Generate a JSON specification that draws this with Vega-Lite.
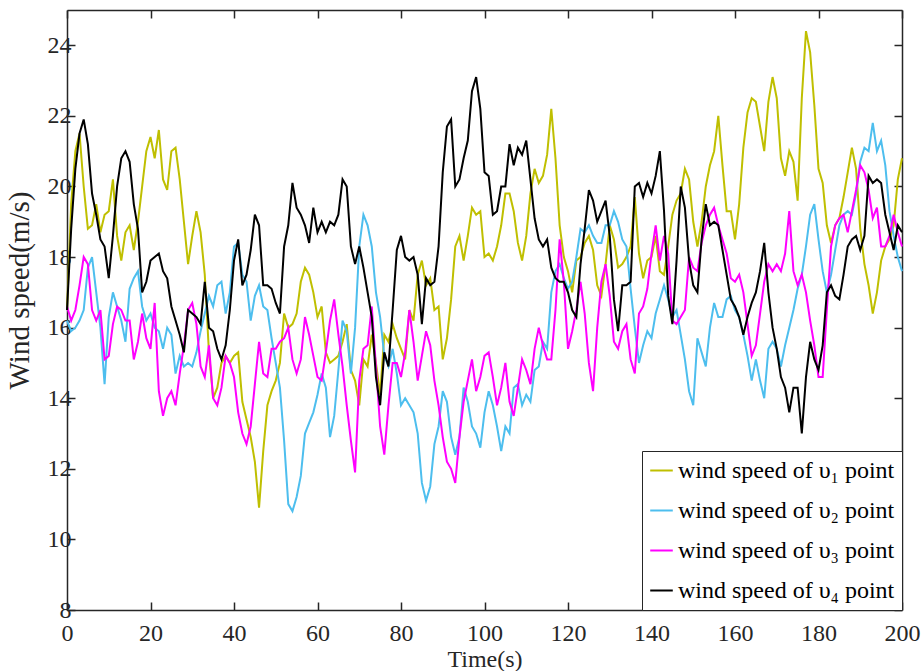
{
  "$schema": "https://vega.github.io/schema/vega-lite/v6.json",
  "width": 835,
  "height": 600,
  "autosize": "none",
  "padding": {"left": 67, "top": 10, "right": 19, "bottom": 61},
  "background": "white",
  "config": {
    "view": {"stroke": null},
    "font": "Liberation Serif",
    "axis": {
      "grid": false,
      "domainColor": "#262626",
      "domainWidth": 1.5,
      "tickColor": "#262626",
      "tickWidth": 1.5,
      "tickSize": -8,
      "labelColor": "#262626",
      "labelFont": "Liberation Serif",
      "labelFontSize": 24,
      "titleFont": "Liberation Serif",
      "titleFontSize": 24,
      "titleFontWeight": "normal",
      "titleColor": "#262626",
      "labelOverlap": false,
      "labelFlush": false
    },
    "legend": {"labelFont": "Liberation Serif"}
  },
  "data": {"values": [
    {"t":0,"v1":16.5,"v2":16.2,"v3":16.6,"v4":16.5},
    {"t":1,"v1":19.5,"v2":15.9,"v3":16.2,"v4":18.8},
    {"t":2,"v1":21.0,"v2":16.0,"v3":16.5,"v4":20.5},
    {"t":3,"v1":21.5,"v2":16.2,"v3":17.2,"v4":21.5},
    {"t":4,"v1":20.0,"v2":16.5,"v3":18.0,"v4":21.9},
    {"t":5,"v1":18.8,"v2":17.7,"v3":17.8,"v4":21.2},
    {"t":6,"v1":18.9,"v2":18.0,"v3":16.5,"v4":19.8},
    {"t":7,"v1":19.5,"v2":17.0,"v3":16.2,"v4":19.2},
    {"t":8,"v1":18.7,"v2":16.0,"v3":16.5,"v4":18.5},
    {"t":9,"v1":19.2,"v2":14.4,"v3":15.1,"v4":18.3},
    {"t":10,"v1":19.3,"v2":16.3,"v3":15.2,"v4":17.4},
    {"t":11,"v1":20.2,"v2":17.0,"v3":16.1,"v4":18.6},
    {"t":12,"v1":18.6,"v2":16.6,"v3":16.6,"v4":20.0},
    {"t":13,"v1":17.9,"v2":16.2,"v3":16.5,"v4":20.8},
    {"t":14,"v1":18.7,"v2":15.6,"v3":16.2,"v4":21.0},
    {"t":15,"v1":18.9,"v2":17.1,"v3":16.2,"v4":20.7},
    {"t":16,"v1":18.2,"v2":17.4,"v3":15.1,"v4":19.5},
    {"t":17,"v1":19.0,"v2":17.6,"v3":15.6,"v4":18.8},
    {"t":18,"v1":20.0,"v2":16.6,"v3":16.4,"v4":17.0},
    {"t":19,"v1":21.0,"v2":16.2,"v3":15.7,"v4":17.3},
    {"t":20,"v1":21.4,"v2":16.4,"v3":15.4,"v4":17.9},
    {"t":21,"v1":20.8,"v2":16.0,"v3":16.7,"v4":18.0},
    {"t":22,"v1":21.6,"v2":15.9,"v3":14.2,"v4":18.1},
    {"t":23,"v1":20.2,"v2":15.4,"v3":13.5,"v4":17.6},
    {"t":24,"v1":19.9,"v2":16.0,"v3":14.0,"v4":17.4},
    {"t":25,"v1":21.0,"v2":15.8,"v3":14.2,"v4":16.6},
    {"t":26,"v1":21.1,"v2":14.7,"v3":13.8,"v4":16.2},
    {"t":27,"v1":20.2,"v2":15.2,"v3":14.7,"v4":15.8},
    {"t":28,"v1":19.0,"v2":14.9,"v3":15.5,"v4":15.3},
    {"t":29,"v1":17.8,"v2":15.0,"v3":16.5,"v4":16.5},
    {"t":30,"v1":18.6,"v2":14.9,"v3":16.7,"v4":16.4},
    {"t":31,"v1":19.3,"v2":15.3,"v3":16.1,"v4":16.3},
    {"t":32,"v1":18.7,"v2":15.9,"v3":14.9,"v4":16.1},
    {"t":33,"v1":17.5,"v2":16.4,"v3":14.6,"v4":17.3},
    {"t":34,"v1":15.3,"v2":16.9,"v3":15.5,"v4":16.0},
    {"t":35,"v1":14.0,"v2":16.6,"v3":14.0,"v4":15.9},
    {"t":36,"v1":14.3,"v2":17.2,"v3":13.8,"v4":15.4},
    {"t":37,"v1":15.0,"v2":17.3,"v3":14.3,"v4":15.1},
    {"t":38,"v1":15.2,"v2":16.4,"v3":15.2,"v4":15.5},
    {"t":39,"v1":15.0,"v2":17.0,"v3":15.0,"v4":16.5},
    {"t":40,"v1":15.2,"v2":18.3,"v3":14.6,"v4":17.9},
    {"t":41,"v1":15.3,"v2":18.4,"v3":13.6,"v4":18.5},
    {"t":42,"v1":13.9,"v2":17.5,"v3":13.0,"v4":17.2},
    {"t":43,"v1":13.4,"v2":17.3,"v3":12.7,"v4":17.5},
    {"t":44,"v1":12.9,"v2":16.2,"v3":13.2,"v4":18.2},
    {"t":45,"v1":12.2,"v2":16.9,"v3":14.4,"v4":19.2},
    {"t":46,"v1":10.9,"v2":17.2,"v3":15.6,"v4":18.9},
    {"t":47,"v1":12.5,"v2":16.6,"v3":14.7,"v4":17.2},
    {"t":48,"v1":13.8,"v2":16.5,"v3":14.6,"v4":17.2},
    {"t":49,"v1":14.2,"v2":15.7,"v3":15.4,"v4":17.1},
    {"t":50,"v1":14.5,"v2":15.0,"v3":15.4,"v4":16.7},
    {"t":51,"v1":15.0,"v2":14.3,"v3":15.6,"v4":16.4},
    {"t":52,"v1":16.4,"v2":12.8,"v3":15.7,"v4":18.3},
    {"t":53,"v1":16.0,"v2":11.0,"v3":16.0,"v4":18.9},
    {"t":54,"v1":16.1,"v2":10.8,"v3":15.1,"v4":20.1},
    {"t":55,"v1":16.4,"v2":11.2,"v3":14.7,"v4":19.4},
    {"t":56,"v1":17.3,"v2":11.8,"v3":15.1,"v4":19.2},
    {"t":57,"v1":17.7,"v2":13.0,"v3":16.3,"v4":18.9},
    {"t":58,"v1":17.5,"v2":13.3,"v3":15.8,"v4":18.4},
    {"t":59,"v1":17.0,"v2":13.6,"v3":15.2,"v4":19.4},
    {"t":60,"v1":16.3,"v2":14.1,"v3":14.6,"v4":18.7},
    {"t":61,"v1":16.6,"v2":14.7,"v3":14.5,"v4":19.0},
    {"t":62,"v1":15.3,"v2":14.3,"v3":15.3,"v4":18.7},
    {"t":63,"v1":15.0,"v2":12.9,"v3":16.2,"v4":19.0},
    {"t":64,"v1":15.1,"v2":13.5,"v3":16.8,"v4":18.9},
    {"t":65,"v1":15.2,"v2":14.8,"v3":15.8,"v4":19.2},
    {"t":66,"v1":15.6,"v2":16.2,"v3":14.9,"v4":20.2},
    {"t":67,"v1":16.1,"v2":15.9,"v3":13.8,"v4":20.0},
    {"t":68,"v1":14.8,"v2":14.7,"v3":12.8,"v4":18.3},
    {"t":69,"v1":14.5,"v2":16.0,"v3":11.9,"v4":17.8},
    {"t":70,"v1":13.8,"v2":18.3,"v3":14.5,"v4":18.3},
    {"t":71,"v1":15.1,"v2":19.2,"v3":15.4,"v4":17.7},
    {"t":72,"v1":14.9,"v2":18.9,"v3":15.5,"v4":17.0},
    {"t":73,"v1":15.8,"v2":18.3,"v3":16.6,"v4":16.3},
    {"t":74,"v1":15.0,"v2":17.0,"v3":14.9,"v4":14.6},
    {"t":75,"v1":14.1,"v2":16.3,"v3":13.2,"v4":13.8},
    {"t":76,"v1":15.8,"v2":15.2,"v3":12.4,"v4":15.3},
    {"t":77,"v1":15.6,"v2":14.9,"v3":13.8,"v4":14.9},
    {"t":78,"v1":16.1,"v2":15.4,"v3":15.0,"v4":16.5},
    {"t":79,"v1":15.7,"v2":14.7,"v3":15.0,"v4":18.2},
    {"t":80,"v1":15.4,"v2":13.8,"v3":14.6,"v4":18.6},
    {"t":81,"v1":15.1,"v2":14.0,"v3":15.3,"v4":18.0},
    {"t":82,"v1":16.5,"v2":13.8,"v3":16.5,"v4":17.9},
    {"t":83,"v1":16.2,"v2":13.6,"v3":15.6,"v4":18.0},
    {"t":84,"v1":17.5,"v2":13.0,"v3":14.5,"v4":17.5},
    {"t":85,"v1":17.9,"v2":11.6,"v3":15.2,"v4":16.1},
    {"t":86,"v1":17.2,"v2":11.1,"v3":15.9,"v4":17.4},
    {"t":87,"v1":17.4,"v2":11.5,"v3":15.5,"v4":17.2},
    {"t":88,"v1":16.5,"v2":12.7,"v3":14.5,"v4":17.3},
    {"t":89,"v1":16.6,"v2":13.2,"v3":13.8,"v4":18.3},
    {"t":90,"v1":15.1,"v2":14.2,"v3":12.9,"v4":20.4},
    {"t":91,"v1":15.7,"v2":13.9,"v3":12.2,"v4":21.7},
    {"t":92,"v1":16.8,"v2":12.9,"v3":12.0,"v4":21.9},
    {"t":93,"v1":18.3,"v2":12.4,"v3":11.6,"v4":20.0},
    {"t":94,"v1":18.6,"v2":12.9,"v3":12.9,"v4":20.2},
    {"t":95,"v1":17.9,"v2":14.3,"v3":13.9,"v4":20.8},
    {"t":96,"v1":18.6,"v2":13.9,"v3":14.5,"v4":21.3},
    {"t":97,"v1":19.4,"v2":13.2,"v3":15.1,"v4":22.7},
    {"t":98,"v1":19.2,"v2":13.0,"v3":14.2,"v4":23.1},
    {"t":99,"v1":19.3,"v2":12.6,"v3":14.6,"v4":22.2},
    {"t":100,"v1":18.0,"v2":13.6,"v3":15.2,"v4":20.4},
    {"t":101,"v1":18.1,"v2":14.2,"v3":15.3,"v4":20.3},
    {"t":102,"v1":17.9,"v2":13.8,"v3":14.6,"v4":19.2},
    {"t":103,"v1":18.3,"v2":13.2,"v3":13.8,"v4":19.3},
    {"t":104,"v1":18.9,"v2":12.5,"v3":14.3,"v4":20.0},
    {"t":105,"v1":19.8,"v2":13.2,"v3":15.0,"v4":20.0},
    {"t":106,"v1":19.8,"v2":13.0,"v3":13.9,"v4":21.2},
    {"t":107,"v1":19.3,"v2":14.3,"v3":13.5,"v4":20.6},
    {"t":108,"v1":18.4,"v2":14.4,"v3":14.3,"v4":21.1},
    {"t":109,"v1":17.9,"v2":13.8,"v3":15.1,"v4":20.9},
    {"t":110,"v1":18.6,"v2":14.1,"v3":14.8,"v4":21.3},
    {"t":111,"v1":19.8,"v2":13.9,"v3":14.4,"v4":20.2},
    {"t":112,"v1":20.5,"v2":14.8,"v3":15.4,"v4":19.1},
    {"t":113,"v1":20.1,"v2":14.9,"v3":16.0,"v4":18.5},
    {"t":114,"v1":20.3,"v2":15.6,"v3":15.5,"v4":18.3},
    {"t":115,"v1":20.9,"v2":15.4,"v3":15.1,"v4":18.5},
    {"t":116,"v1":22.2,"v2":17.0,"v3":15.1,"v4":17.7},
    {"t":117,"v1":20.8,"v2":17.6,"v3":16.5,"v4":17.4},
    {"t":118,"v1":18.9,"v2":17.8,"v3":18.5,"v4":17.3},
    {"t":119,"v1":18.0,"v2":17.4,"v3":17.3,"v4":17.3},
    {"t":120,"v1":17.6,"v2":17.1,"v3":15.4,"v4":17.0},
    {"t":121,"v1":17.0,"v2":17.3,"v3":15.9,"v4":16.5},
    {"t":122,"v1":17.9,"v2":18.0,"v3":16.5,"v4":16.3},
    {"t":123,"v1":18.0,"v2":18.8,"v3":17.3,"v4":17.8},
    {"t":124,"v1":18.4,"v2":18.7,"v3":16.4,"v4":18.8},
    {"t":125,"v1":18.6,"v2":18.9,"v3":15.0,"v4":19.9},
    {"t":126,"v1":18.2,"v2":18.6,"v3":14.2,"v4":19.6},
    {"t":127,"v1":17.2,"v2":18.4,"v3":16.0,"v4":19.0},
    {"t":128,"v1":16.9,"v2":18.4,"v3":17.3,"v4":19.3},
    {"t":129,"v1":17.8,"v2":18.9,"v3":17.8,"v4":19.6},
    {"t":130,"v1":18.9,"v2":18.9,"v3":16.9,"v4":18.6},
    {"t":131,"v1":18.5,"v2":19.3,"v3":15.6,"v4":16.8},
    {"t":132,"v1":17.7,"v2":19.0,"v3":15.4,"v4":15.9},
    {"t":133,"v1":17.8,"v2":18.5,"v3":15.9,"v4":17.2},
    {"t":134,"v1":18.0,"v2":18.3,"v3":16.1,"v4":17.2},
    {"t":135,"v1":18.3,"v2":17.1,"v3":15.1,"v4":17.3},
    {"t":136,"v1":19.7,"v2":16.0,"v3":14.7,"v4":20.0},
    {"t":137,"v1":18.1,"v2":15.0,"v3":16.4,"v4":20.1},
    {"t":138,"v1":17.4,"v2":15.5,"v3":16.6,"v4":19.7},
    {"t":139,"v1":17.9,"v2":15.9,"v3":17.1,"v4":20.1},
    {"t":140,"v1":18.0,"v2":15.7,"v3":18.1,"v4":19.8},
    {"t":141,"v1":18.6,"v2":16.4,"v3":18.9,"v4":20.3},
    {"t":142,"v1":17.6,"v2":16.8,"v3":17.9,"v4":21.0},
    {"t":143,"v1":17.5,"v2":17.2,"v3":18.6,"v4":19.3},
    {"t":144,"v1":18.3,"v2":16.8,"v3":18.1,"v4":16.9},
    {"t":145,"v1":19.2,"v2":16.3,"v3":16.2,"v4":16.1},
    {"t":146,"v1":19.6,"v2":16.5,"v3":16.1,"v4":17.9},
    {"t":147,"v1":19.8,"v2":15.8,"v3":16.3,"v4":20.0},
    {"t":148,"v1":20.5,"v2":15.1,"v3":16.5,"v4":19.4},
    {"t":149,"v1":20.2,"v2":14.2,"v3":18.0,"v4":17.9},
    {"t":150,"v1":19.0,"v2":13.8,"v3":17.7,"v4":17.2},
    {"t":151,"v1":18.3,"v2":15.7,"v3":17.6,"v4":17.0},
    {"t":152,"v1":19.0,"v2":15.3,"v3":18.4,"v4":18.5},
    {"t":153,"v1":20.0,"v2":14.9,"v3":18.9,"v4":19.5},
    {"t":154,"v1":20.6,"v2":16.0,"v3":19.2,"v4":18.9},
    {"t":155,"v1":21.0,"v2":16.7,"v3":19.4,"v4":19.0},
    {"t":156,"v1":22.0,"v2":16.3,"v3":18.9,"v4":18.9},
    {"t":157,"v1":20.6,"v2":16.3,"v3":18.5,"v4":18.2},
    {"t":158,"v1":19.3,"v2":16.8,"v3":18.1,"v4":17.5},
    {"t":159,"v1":19.3,"v2":16.9,"v3":17.4,"v4":16.8},
    {"t":160,"v1":18.5,"v2":16.5,"v3":17.3,"v4":16.6},
    {"t":161,"v1":19.5,"v2":16.3,"v3":17.5,"v4":16.3},
    {"t":162,"v1":21.1,"v2":15.8,"v3":17.0,"v4":15.8},
    {"t":163,"v1":22.1,"v2":15.2,"v3":16.1,"v4":16.3},
    {"t":164,"v1":22.5,"v2":14.5,"v3":15.2,"v4":16.7},
    {"t":165,"v1":22.4,"v2":15.1,"v3":15.5,"v4":17.0},
    {"t":166,"v1":21.7,"v2":14.5,"v3":16.4,"v4":17.6},
    {"t":167,"v1":21.0,"v2":14.0,"v3":17.3,"v4":18.4},
    {"t":168,"v1":22.4,"v2":15.4,"v3":17.8,"v4":17.0},
    {"t":169,"v1":23.1,"v2":15.6,"v3":17.6,"v4":16.0},
    {"t":170,"v1":22.5,"v2":15.4,"v3":17.8,"v4":15.4},
    {"t":171,"v1":20.8,"v2":14.9,"v3":17.6,"v4":14.6},
    {"t":172,"v1":20.3,"v2":15.5,"v3":18.1,"v4":14.3},
    {"t":173,"v1":21.0,"v2":16.0,"v3":19.3,"v4":13.6},
    {"t":174,"v1":20.7,"v2":16.5,"v3":17.6,"v4":14.3},
    {"t":175,"v1":19.6,"v2":17.1,"v3":17.2,"v4":14.3},
    {"t":176,"v1":22.5,"v2":17.5,"v3":17.5,"v4":13.0},
    {"t":177,"v1":24.4,"v2":18.3,"v3":17.0,"v4":14.6},
    {"t":178,"v1":23.8,"v2":19.2,"v3":16.2,"v4":15.6},
    {"t":179,"v1":22.3,"v2":19.5,"v3":15.5,"v4":15.1},
    {"t":180,"v1":20.5,"v2":18.5,"v3":14.6,"v4":14.8},
    {"t":181,"v1":20.1,"v2":17.6,"v3":14.6,"v4":15.5},
    {"t":182,"v1":18.9,"v2":17.0,"v3":16.5,"v4":17.0},
    {"t":183,"v1":18.4,"v2":17.5,"v3":18.3,"v4":17.2},
    {"t":184,"v1":18.9,"v2":18.2,"v3":18.9,"v4":16.9},
    {"t":185,"v1":19.1,"v2":18.9,"v3":19.1,"v4":16.8},
    {"t":186,"v1":19.7,"v2":19.2,"v3":19.2,"v4":17.5},
    {"t":187,"v1":20.4,"v2":19.3,"v3":18.7,"v4":18.3},
    {"t":188,"v1":21.1,"v2":19.2,"v3":19.3,"v4":18.5},
    {"t":189,"v1":20.5,"v2":19.8,"v3":19.9,"v4":18.6},
    {"t":190,"v1":18.8,"v2":20.7,"v3":20.6,"v4":18.2},
    {"t":191,"v1":17.8,"v2":21.1,"v3":20.4,"v4":18.6},
    {"t":192,"v1":17.2,"v2":21.0,"v3":19.9,"v4":20.3},
    {"t":193,"v1":16.4,"v2":21.8,"v3":19.1,"v4":20.1},
    {"t":194,"v1":17.0,"v2":21.0,"v3":19.4,"v4":20.2},
    {"t":195,"v1":17.9,"v2":21.3,"v3":18.3,"v4":20.1},
    {"t":196,"v1":18.3,"v2":20.6,"v3":18.3,"v4":19.2},
    {"t":197,"v1":18.5,"v2":19.3,"v3":18.6,"v4":18.7},
    {"t":198,"v1":18.9,"v2":18.6,"v3":19.2,"v4":18.2},
    {"t":199,"v1":20.2,"v2":18.0,"v3":18.7,"v4":18.9},
    {"t":200,"v1":20.8,"v2":17.6,"v3":18.3,"v4":18.7}
  ]},
  "transform": [{"fold": ["v1", "v2", "v3", "v4"], "as": ["series", "speed"]}],
  "layer": [
    {
      "mark": {"type": "line", "strokeWidth": 2},
      "encoding": {
        "x": {
          "field": "t", "type": "quantitative",
          "scale": {"domain": [0, 200], "nice": false},
          "axis": {
            "orient": "bottom",
            "values": [0, 20, 40, 60, 80, 100, 120, 140, 160, 180, 200],
            "title": "Time(s)",
            "labelPadding": 19,
            "titleX": 417.5,
            "titleY": 56,
            "titleBaseline": "alphabetic",
            "titleAlign": "center"
          }
        },
        "y": {
          "field": "speed", "type": "quantitative",
          "scale": {"domain": [8, 25], "nice": false, "zero": false},
          "axis": {
            "orient": "left",
            "values": [8, 10, 12, 14, 16, 18, 20, 22, 24],
            "title": "Wind speed(m/s)",
            "titleFontSize": 29,
            "labelPadding": 4,
            "titleX": -33,
            "titleY": 280,
            "titleAngle": -90,
            "titleBaseline": "bottom",
            "titleAlign": "center"
          }
        },
        "color": {
          "field": "series", "type": "nominal",
          "scale": {"domain": ["v1", "v2", "v3", "v4"], "range": ["#BFBF00", "#4DBEEE", "#FF00FF", "#000000"]},
          "legend": {
            "orient": "bottom-right",
            "offset": 0,
            "title": null,
            "fillColor": "white",
            "strokeColor": "#262626",
            "padding": 7,
            "rowPadding": 15,
            "symbolType": "stroke",
            "symbolSize": 510,
            "symbolStrokeWidth": 2,
            "labelFont": "Liberation Serif",
            "labelFontSize": 24,
            "labelColor": "#000000",
            "labelOffset": 4,
            "labelLimit": 400,
            "labelExpr": "datum.value == 'v1' ? 'wind speed of υ₁ point' : datum.value == 'v2' ? 'wind speed of υ₂ point' : datum.value == 'v3' ? 'wind speed of υ₃ point' : 'wind speed of υ₄ point'"
          }
        }
      }
    },
    {
      "mark": {"type": "line", "opacity": 0},
      "encoding": {
        "x": {
          "field": "t", "type": "quantitative",
          "axis": {"orient": "top", "labels": false, "title": null, "values": [0, 20, 40, 60, 80, 100, 120, 140, 160, 180, 200]}
        },
        "y": {
          "field": "speed", "type": "quantitative",
          "axis": {"orient": "right", "labels": false, "title": null, "values": [8, 10, 12, 14, 16, 18, 20, 22, 24]}
        },
        "detail": {"field": "series"}
      }
    }
  ],
  "resolve": {"axis": {"x": "independent", "y": "independent"}}
}
